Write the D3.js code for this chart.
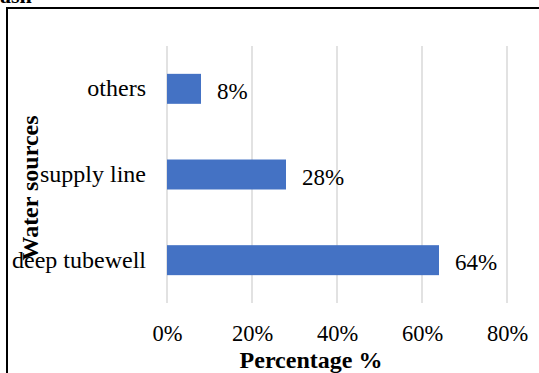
<!DOCTYPE html>
<html>
<head>
<meta charset="utf-8">
<script src="https://cdn.jsdelivr.net/npm/d3@7"></script>
<style>
  html, body { margin: 0; padding: 0; background: #fff; }
  svg { display: block; font-family: "Liberation Serif", "Times New Roman", serif; }
</style>
</head>
<body>
<svg id="chart" width="539" height="373"></svg>
<script>
// Water source shares
const categories = ["others", "supply line", "deep tubewell"];
const shares = [0.08, 0.28, 0.64];
const tickValues = [0, 0.2, 0.4, 0.6, 0.8];

const svg = d3.select("#chart");
const W = 539, H = 373;
const plot = { left: 167, right: 507, top: 46, bottom: 303 };

// Clipped tail of the caption above the frame
svg.append("text")
  .attr("x", 0).attr("y", 3)
  .attr("font-weight", "bold").attr("font-size", 22)
  .text("ash");

// Chart frame (right and bottom edges extend past the view)
svg.append("rect")
  .attr("x", 7).attr("y", 8)
  .attr("width", W + 20).attr("height", H + 20)
  .attr("fill", "none").attr("stroke", "#000").attr("stroke-width", 2);

const x = d3.scaleLinear().domain([0, 0.8]).range([plot.left, plot.right]);
const y = d3.scaleBand().domain(categories)
  .range([plot.top, plot.bottom])
  .paddingInner(0.65).paddingOuter(0.325);

// Vertical gridlines
svg.append("g").selectAll("line").data(tickValues).join("line")
  .attr("x1", d => x(d)).attr("x2", d => x(d))
  .attr("y1", plot.top).attr("y2", plot.bottom)
  .attr("stroke", "#d9d9d9").attr("stroke-width", 1.5);

// Bars
svg.append("g").selectAll("rect").data(categories).join("rect")
  .attr("x", x(0))
  .attr("y", d => y(d))
  .attr("width", (d, i) => x(shares[i]) - x(0))
  .attr("height", y.bandwidth())
  .attr("fill", "#4472c4");

// Value labels
svg.append("g").selectAll("text").data(categories).join("text")
  .attr("x", (d, i) => x(shares[i]) + 16)
  .attr("y", d => y(d) + y.bandwidth() / 2 + 10)
  .attr("font-size", 23)
  .text((d, i) => d3.format(".0%")(shares[i]));

// Category axis labels
const yAxis = d3.axisLeft(y).tickSize(0).tickPadding(0);
const gy = svg.append("g").attr("transform", `translate(146,0)`).call(yAxis);
gy.select(".domain").remove();
gy.selectAll("text")
  .attr("font-family", "Liberation Serif").attr("font-size", 24).attr("fill", "#000")
  .attr("dy", null).attr("y", 7.5);

// Percentage axis labels
const xAxis = d3.axisBottom(x).tickValues(tickValues).tickFormat(d3.format(".0%")).tickSize(0).tickPadding(0);
const gx = svg.append("g").attr("transform", `translate(0,340.5)`).call(xAxis);
gx.select(".domain").remove();
gx.selectAll("text")
  .attr("font-family", "Liberation Serif").attr("font-size", 22.5).attr("fill", "#000")
  .attr("dy", null).attr("y", 0);

// Axis titles
svg.append("text")
  .attr("x", 311).attr("y", 367.5)
  .attr("text-anchor", "middle")
  .attr("font-weight", "bold").attr("font-size", 24)
  .text("Percentage %");

svg.append("text")
  .attr("transform", "translate(38,188) rotate(-90)")
  .attr("text-anchor", "middle")
  .attr("font-weight", "bold").attr("font-size", 24)
  .text("Water sources");
</script>
</body>
</html>
